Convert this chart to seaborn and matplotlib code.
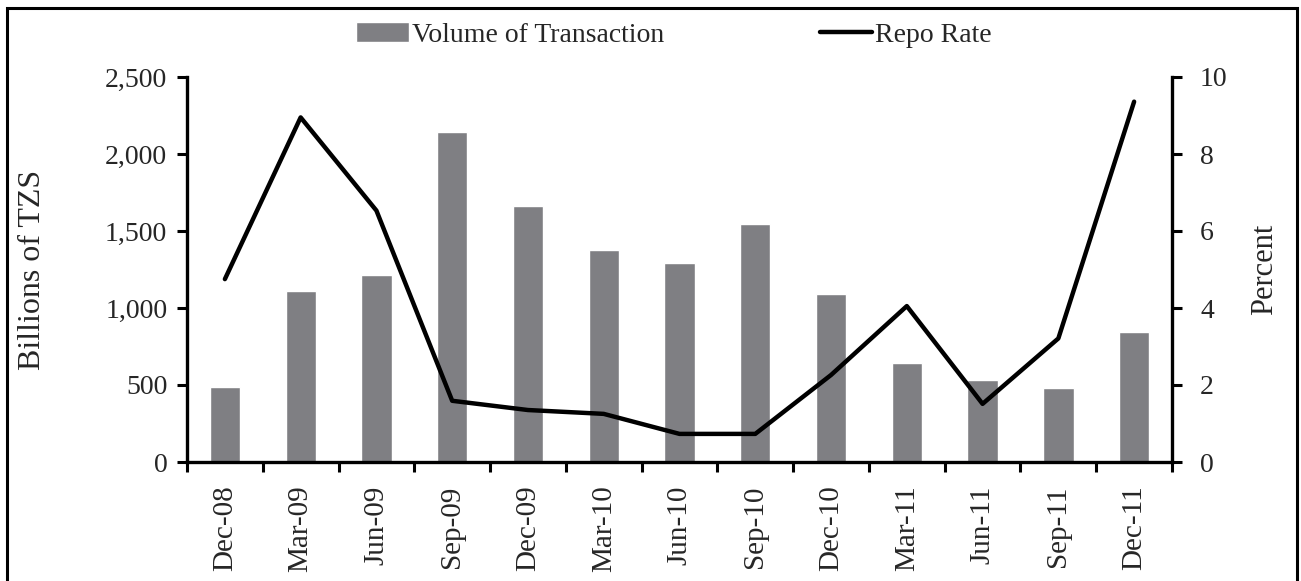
import numpy as np
import pandas as pd
import matplotlib
matplotlib.use("Agg")
import matplotlib.pyplot as plt
import seaborn as sns
from matplotlib.patches import Rectangle
from matplotlib.ticker import FuncFormatter, MultipleLocator, FixedLocator

quarters = ["Dec-08", "Mar-09", "Jun-09", "Sep-09", "Dec-09", "Mar-10", "Jun-10",
            "Sep-10", "Dec-10", "Mar-11", "Jun-11", "Sep-11", "Dec-11"]
volume = [490, 1110, 1215, 2140, 1660, 1375, 1295, 1545, 1090, 645, 530, 478, 842]
repo_rate = [4.75, 8.95, 6.53, 1.59, 1.35, 1.25, 0.73, 0.73, 2.26, 4.05, 1.51, 3.21, 9.36]

sns.set_theme(style="white")
plt.rcParams['font.family'] = ['Liberation Serif', 'DejaVu Serif']

FS = 20
fig = plt.figure(figsize=(13.01, 5.81), dpi=100)
ax = fig.add_axes([187/1301, 1 - 462/581, (1172 - 187)/1301, (462 - 77)/581])

df = pd.DataFrame({"quarter": quarters, "volume": volume, "rate": repo_rate})
sns.barplot(data=df, x="quarter", y="volume", color="#7f7f83", width=0.4,
            saturation=1, ax=ax, label="Volume of Transaction")
ax2 = ax.twinx()
sns.lineplot(x=np.arange(len(quarters)), y=df["rate"], color="black", lw=3.2,
             ax=ax2, label="Repo Rate")

ax.set_xlim(-0.5, len(quarters) - 0.5)
ax.set_ylim(0, 2500)
ax2.set_ylim(0, 10)
ax.yaxis.set_major_locator(MultipleLocator(500))
ax2.yaxis.set_major_locator(MultipleLocator(2))
ax.yaxis.set_major_formatter(FuncFormatter(lambda v, p: f"{int(v):,}"))

for a in (ax, ax2):
    for s in a.spines.values():
        s.set_visible(False)
ax.spines['left'].set_visible(True)
ax.spines['bottom'].set_visible(True)
ax2.spines['right'].set_visible(True)
for s in (ax.spines['left'], ax.spines['bottom'], ax2.spines['right']):
    s.set_color("black")
    s.set_linewidth(2.4)

ax.set_xticks(range(len(quarters)))
ax.set_xticklabels(quarters, rotation=90, fontsize=21)
ax.xaxis.set_minor_locator(FixedLocator(np.arange(-0.5, len(quarters), 1.0)))
ax.tick_params(axis='x', which='major', length=0, pad=17)
ax.tick_params(axis='x', which='minor', length=7, width=2.2, color='black', direction='out', bottom=True)
ax.tick_params(axis='y', which='major', length=7.2, width=2.2, color='black', direction='out',
               labelsize=FS, left=True, pad=7)
ax2.tick_params(axis='y', which='major', length=7.2, width=2.2, color='black', direction='out',
                labelsize=FS, right=True, pad=13)

ax.set_xlabel("")
ax.set_ylabel("Billions of TZS", fontsize=23, labelpad=42)
ax2.set_ylabel("Percent", fontsize=22, labelpad=16)
ax.grid(False)
ax2.grid(False)

h1, l1 = ax.get_legend_handles_labels()
h2, l2 = ax2.get_legend_handles_labels()
for a in (ax, ax2):
    if a.get_legend() is not None:
        a.get_legend().remove()
fig.legend(h1 + h2, l1 + l2, loc='upper center', bbox_to_anchor=(0.518, 1.005), ncol=2,
           frameon=False, fontsize=FS, columnspacing=5.6, handlelength=1.9,
           handletextpad=0.1)

fig.patches.append(Rectangle((7/1301, -0.02), 1290/1301, 1.02 - 8/581, transform=fig.transFigure,
                             fill=False, edgecolor='black', linewidth=2.2))

fig.savefig("out.png", dpi=100)
